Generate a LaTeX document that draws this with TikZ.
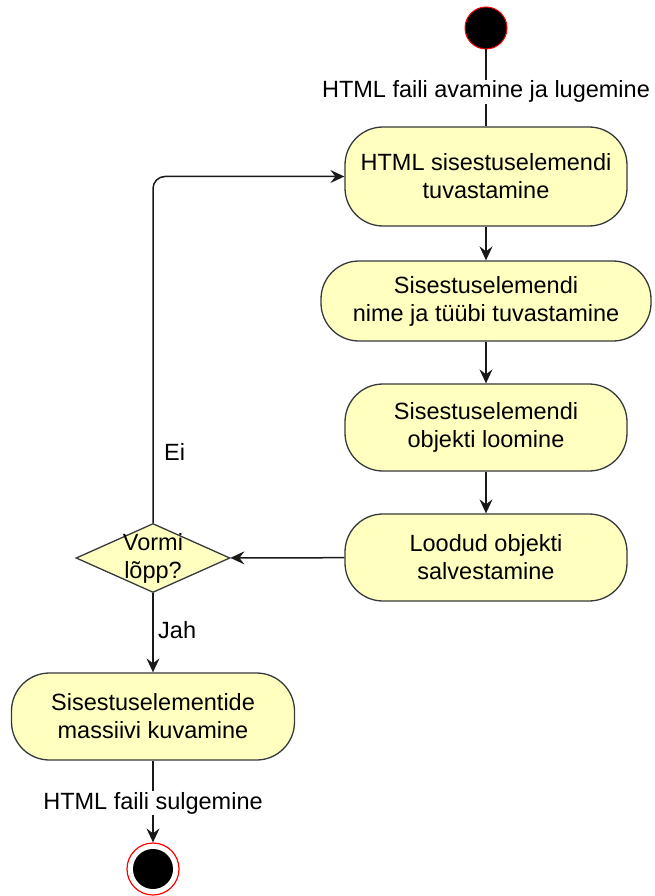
\documentclass[tikz,border=0pt]{standalone}
\usepackage{fontspec}
\setmainfont{Liberation Sans}
\usetikzlibrary{shapes.geometric,arrows.meta}

\definecolor{boxfill}{HTML}{FFFFC0}
\definecolor{boxline}{HTML}{36393D}
\definecolor{ringred}{HTML}{FF0000}

\begin{document}
\begin{tikzpicture}[x=1pt,y=-1pt,
  txt/.style={font=\fontsize{23.5}{28}\selectfont},
  action/.style={txt, draw=boxline, fill=boxfill, line width=1.3pt,
    rectangle, rounded corners=38pt, align=center, inner sep=0pt},
  decision/.style={draw=boxline, fill=boxfill, line width=1.3pt,
    diamond, inner sep=0pt},
  flow/.style={line width=1.5pt, draw=black!90,
    -{Stealth[length=14pt,width=13pt,inset=5pt]}},
  plain/.style={line width=1.5pt, draw=black!90},
  edgelabel/.style={txt, fill=white, inner sep=1pt},
  sidelabel/.style={txt, anchor=west, inner sep=0pt},
]
\useasboundingbox (0,0) rectangle (654,896);

% start and end points
\node[circle, fill=black, draw=ringred, line width=1pt, minimum size=42pt, inner sep=0pt] (start) at (486,28) {};
\node[circle, draw=ringred, line width=1.2pt, minimum size=52pt, inner sep=0pt, fill=white] (finish) at (153,869) {};
\node[circle, fill=black, minimum size=40pt, inner sep=0pt] at (finish) {};

% activities
\node[action, minimum width=282pt, minimum height=99pt] (detect) at (486,176.5)
  {HTML sisestuselemendi\\tuvastamine};
\node[action, minimum width=330pt, minimum height=80pt] (nametype) at (486,301)
  {Sisestuselemendi\\nime ja tüübi tuvastamine};
\node[action, minimum width=282pt, minimum height=87pt] (create) at (486,427.5)
  {Sisestuselemendi\\objekti loomine};
\node[action, minimum width=282pt, minimum height=87pt] (save) at (486,557.5)
  {Loodud objekti\\salvestamine};
\node[decision, minimum width=154pt, minimum height=69pt] (formend) at (153,558) {};
\node[txt, align=center, inner sep=0pt] (formendtext) at (153,558) {Vormi\\lõpp?};
\node[action, minimum width=283pt, minimum height=87pt] (show) at (153,716.5)
  {Sisestuselementide\\massiivi kuvamine};

% connectors
\draw[plain] (start) -- node[edgelabel, pos=0.55] {HTML faili avamine ja lugemine} (detect);
\draw[flow] (detect) -- (nametype);
\draw[flow] (nametype) -- (create);
\draw[flow] (create) -- (save);
\draw[flow] (save) -- (formend);
\draw[flow, rounded corners=12pt] (formend.north) |- (detect.west);
\draw[flow] (formend) -- (show);
\draw[flow] (show) -- node[edgelabel, pos=0.52] {HTML faili sulgemine} (finish);

% branch labels
\node[sidelabel] at (164,452) {Ei};
\node[sidelabel] at (158,630) {Jah};
\end{tikzpicture}
\end{document}
